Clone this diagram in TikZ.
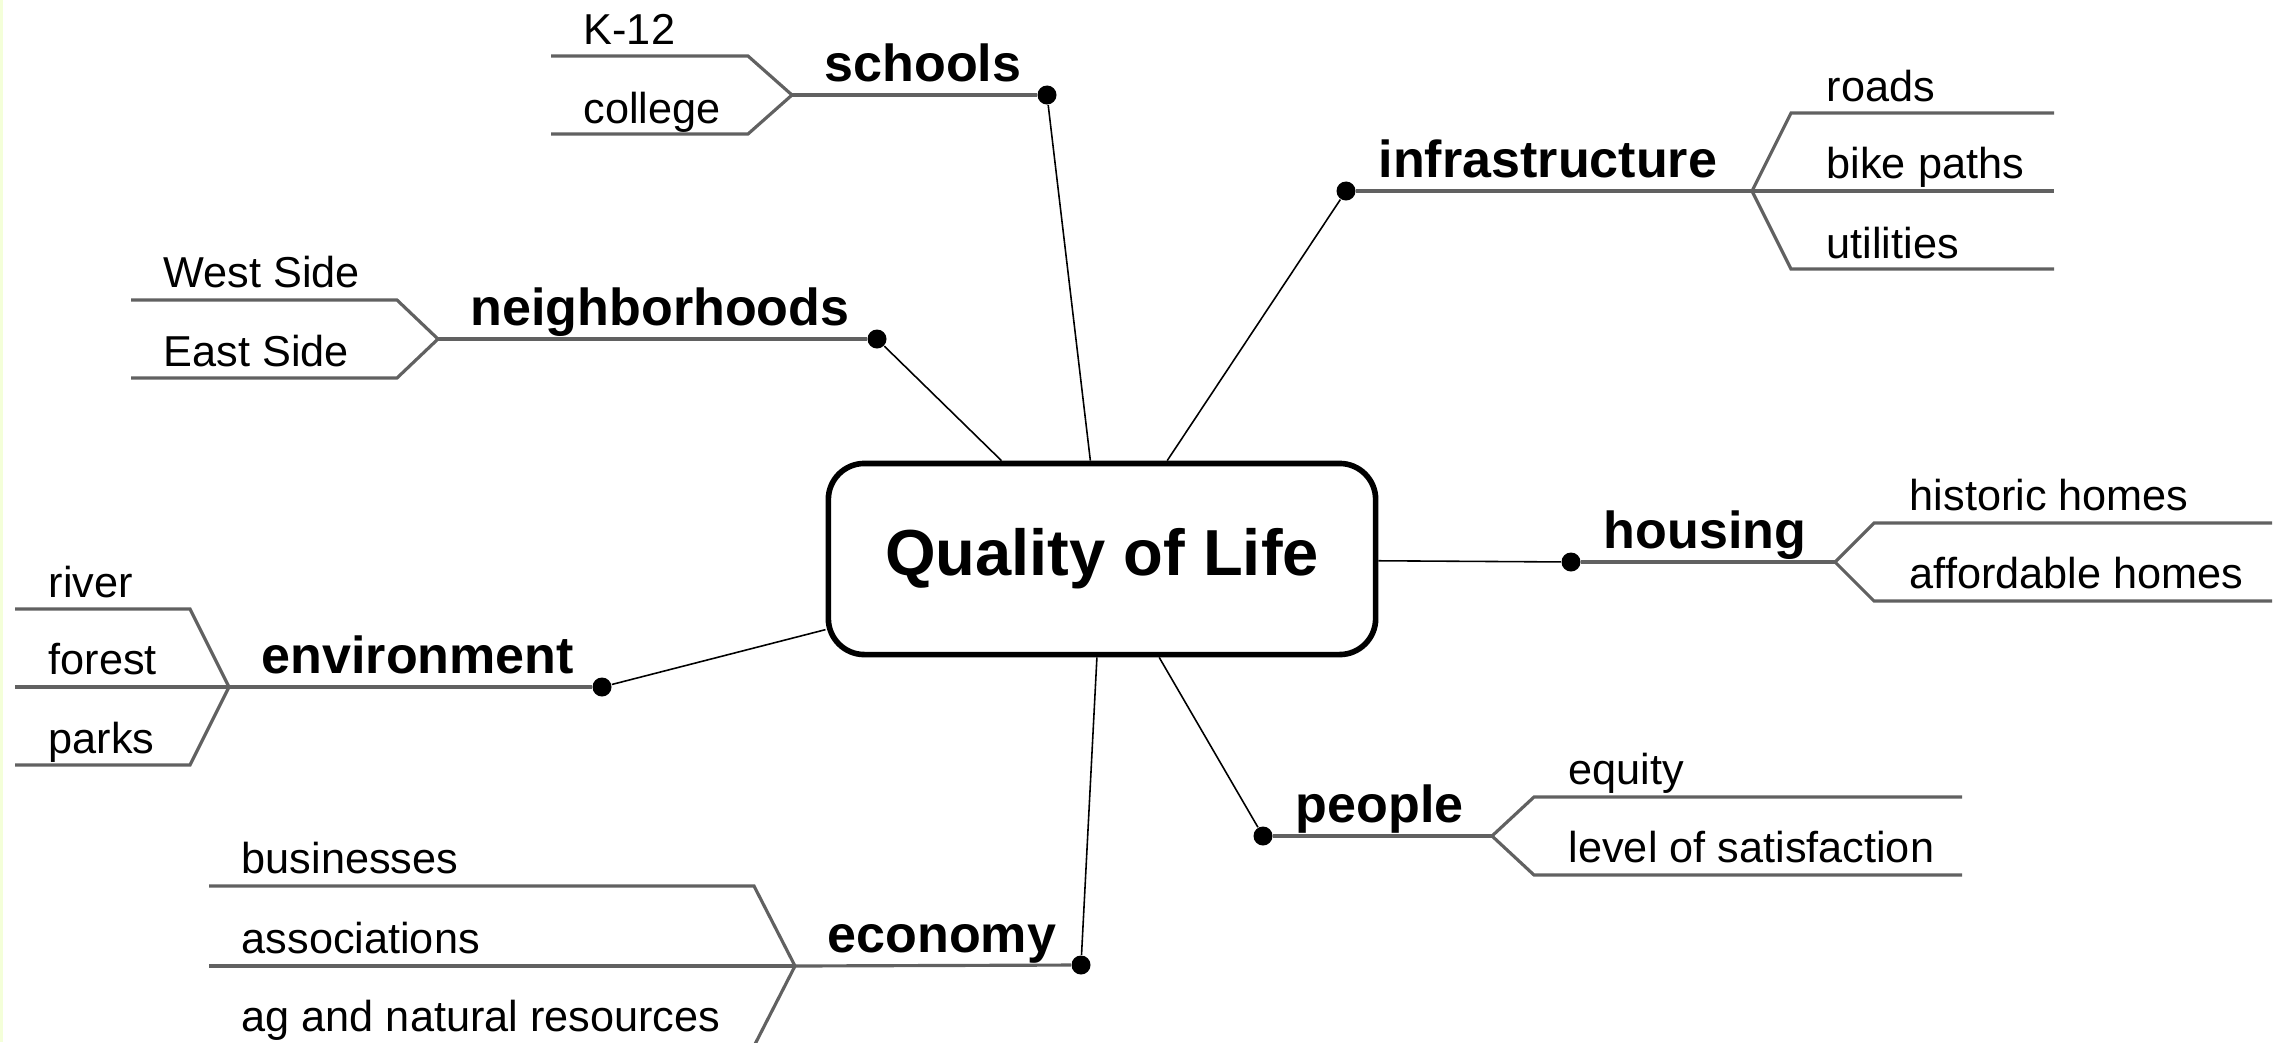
\documentclass[tikz,border=0pt]{standalone}
\usepackage{fontspec}
\setmainfont{Liberation Sans}
\colorlet{twig edge}{black!62}
\colorlet{hub edge}{black}
\colorlet{edge strip}{green!30!yellow!15}
\tikzset{hub/.style={draw=hub edge, line width=1.6pt, rounded corners=0.36cm, minimum width=5.47cm, minimum height=1.91cm, font=\bfseries\fontsize{18.5}{22}\selectfont},
	topic/.style={anchor=base west, inner sep=0pt, font=\bfseries\fontsize{14.8}{18}\selectfont},
	leaf/.style={anchor=base west, inner sep=0pt, font=\fontsize{12.3}{15}\selectfont},
	knot/.style={circle, fill=black, inner sep=0pt, minimum size=0.19cm},
	spoke/.style={draw=black, line width=0.45pt},
	twig/.style={draw=twig edge, line width=0.9pt}}

\begin{document}
\begin{tikzpicture}[x=0.01cm, y=-0.01cm]
		\useasboundingbox (0,0) rectangle (2287,1042);
		\clip (0,0) rectangle (2287,1042);
		\fill[edge strip] (0,0) rectangle (3,1042);
		\node[hub] (qol) at (1102,559) {Quality of Life};
		
		\node[knot] (schools dot) at (1047,95) {};
		\node[knot] (hoods dot) at (877,339) {};
		\node[knot] (infra dot) at (1346,191) {};
		\node[knot] (housing dot) at (1571,562) {};
		\node[knot] (people dot) at (1263,836) {};
		\node[knot] (economy dot) at (1081,965) {};
		\node[knot] (enviro dot) at (602,687) {};
		
		\coordinate (schools fork) at (792,95);
		\coordinate (hoods fork) at (438,339);
		\coordinate (infra fork) at (1752,191);
		\coordinate (housing fork) at (1835,562);
		\coordinate (people fork) at (1492,836);
		\coordinate (economy fork) at (795,966);
		\coordinate (enviro fork) at (229,687);
		
		\foreach \t in {schools, hoods, infra, housing, people, economy, enviro}{
			\draw[spoke] (\t\space dot) -- (qol);
			\draw[twig] (\t\space dot) -- (\t\space fork);
		}
		
		\draw[twig] (schools fork) -- ++(-44,-39) -- ++(-197,0);
		\draw[twig] (schools fork) -- ++(-44,39) -- ++(-197,0);
		\node[topic] (schools) at (824,81) {schools};
		\node[leaf] (k12) at (583,44) {K-12};
		\node[leaf] (college) at (583,123) {college};
		
		\draw[twig] (hoods fork) -- ++(-41,-39) -- ++(-266,0);
		\draw[twig] (hoods fork) -- ++(-41,39) -- ++(-266,0);
		\node[topic] (hoods) at (470,325) {neighborhoods};
		\node[leaf] (west) at (163,287) {West Side};
		\node[leaf] (east) at (163,366) {East Side};
		
		\draw[twig] (infra fork) -- ++(39,-78) -- ++(263,0);
		\draw[twig] (infra fork) -- ++(302,0);
		\draw[twig] (infra fork) -- ++(39,78) -- ++(263,0);
		\node[topic] (infra) at (1378,177) {infrastructure};
		\node[leaf] (roads) at (1826,101) {roads};
		\node[leaf] (bike) at (1826,178) {bike paths};
		\node[leaf] (utilities) at (1826,258) {utilities};
		
		\draw[twig] (housing fork) -- ++(39,-39) -- ++(398,0);
		\draw[twig] (housing fork) -- ++(39,39) -- ++(398,0);
		\node[topic] (housing) at (1603,548) {housing};
		\node[leaf] (historic) at (1909,510) {historic homes};
		\node[leaf] (affordable) at (1909,588) {affordable homes};
		
		\draw[twig] (people fork) -- ++(42,-39) -- ++(428,0);
		\draw[twig] (people fork) -- ++(42,39) -- ++(428,0);
		\node[topic] (people) at (1295,822) {people};
		\node[leaf] (equity) at (1568,784) {equity};
		\node[leaf] (satisfaction) at (1568,862) {level of satisfaction};
		
		\draw[twig] (economy fork) -- ++(-41,-80) -- ++(-545,0);
		\draw[twig] (economy fork) -- ++(-586,0);
		\draw[twig] (economy fork) -- ++(-43,84) -- ++(-545,0);
		\node[topic] (economy) at (827,952) {economy};
		\node[leaf] (businesses) at (241,873) {businesses};
		\node[leaf] (associations) at (241,953) {associations};
		\node[leaf] (ag) at (241,1031) {ag and natural resources};
		
		\draw[twig] (enviro fork) -- ++(-39,-78) -- ++(-175,0);
		\draw[twig] (enviro fork) -- ++(-214,0);
		\draw[twig] (enviro fork) -- ++(-39,78) -- ++(-175,0);
		\node[topic] (enviro) at (261,673) {environment};
		\node[leaf] (river) at (48,597) {river};
		\node[leaf] (forest) at (48,674) {forest};
		\node[leaf] (parks) at (48,753) {parks};
		
		\end{tikzpicture}
\end{document}
